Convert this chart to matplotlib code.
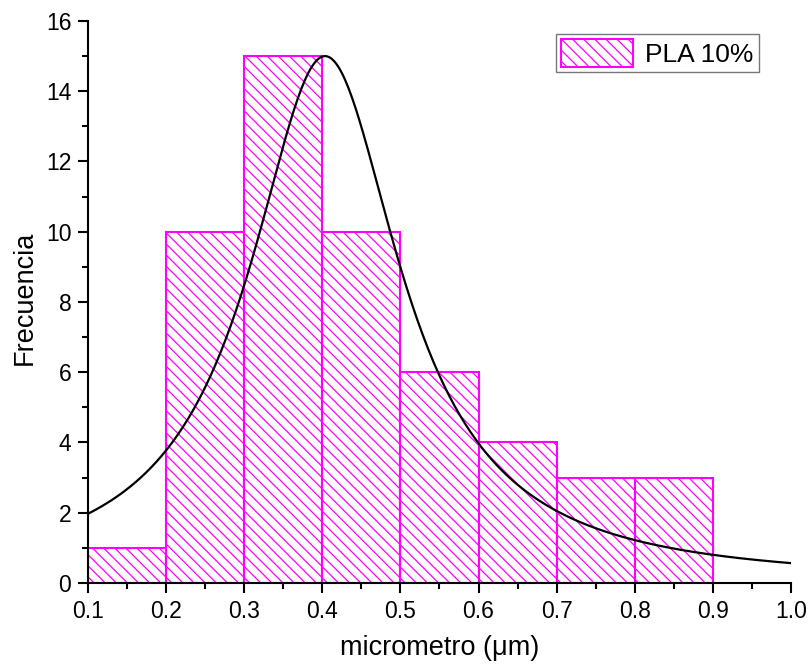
import numpy as np
import matplotlib.pyplot as plt
from matplotlib.ticker import MultipleLocator

plt.rcParams['font.family'] = ['Liberation Sans', 'DejaVu Sans']
plt.rcParams['hatch.color'] = '#ff00ff'
plt.rcParams['hatch.linewidth'] = 0.9

# histogram of particle size (um), bins of 0.1
bin_edges = [0.1, 0.2, 0.3, 0.4, 0.5, 0.6, 0.7, 0.8, 0.9]
counts = [1, 10, 15, 10, 6, 4, 3, 3]

# Lorentz fit parameters
fit_xc = 0.4035     # centre
fit_fwhm = 0.236    # full width at half max
fit_height = 15.0   # peak height
fit_range = [0.1, 1.0]

fig = plt.figure(figsize=(8.11, 6.70), dpi=100)
ax = fig.add_axes([0.1085, 0.1299, 0.9753 - 0.1085, 0.9687 - 0.1299])

left = np.array(bin_edges[:-1])
width = np.diff(bin_edges)
ax.bar(left, counts, width=width, align='edge', facecolor='white',
       edgecolor='#ff00ff', linewidth=1.5, hatch='\\\\\\', label='PLA 10%', zorder=2)

xf = np.linspace(fit_range[0], fit_range[1], 400)
hw = fit_fwhm / 2
yf = fit_height / (1 + ((xf - fit_xc) / hw) ** 2)
ax.plot(xf, yf, color='black', lw=1.6, zorder=3)

ax.set_xlim(0.1, 1.0)
ax.set_ylim(0, 16)
ax.xaxis.set_major_locator(MultipleLocator(0.1))
ax.xaxis.set_minor_locator(MultipleLocator(0.05))
ax.yaxis.set_major_locator(MultipleLocator(2))
ax.yaxis.set_minor_locator(MultipleLocator(1))
ax.set_xticklabels([f'{v:.1f}' for v in ax.get_xticks()])

for s in ['top', 'right']:
    ax.spines[s].set_visible(False)
for s in ['left', 'bottom']:
    ax.spines[s].set_linewidth(1.5)
ax.tick_params(which='major', direction='out', length=7, width=1.5, labelsize=16.5, pad=5)
ax.tick_params(which='minor', direction='out', length=4.5, width=1.5)

ax.set_xlabel('micrometro (\u03bcm)', fontsize=19.5, labelpad=9)
ax.set_ylabel('Frecuencia', fontsize=19.5)
ax.yaxis.set_label_coords(-0.072, 0.507)

leg = ax.legend(loc='upper right', fontsize=19, frameon=True, fancybox=False,
                edgecolor='#555555', handlelength=2.75, handleheight=1.25,
                borderpad=0.2, handletextpad=0.45, borderaxespad=0,
                bbox_to_anchor=(0.9545, 0.977))
leg.get_frame().set_linewidth(1.0)

fig.savefig('out.png', dpi=100)
